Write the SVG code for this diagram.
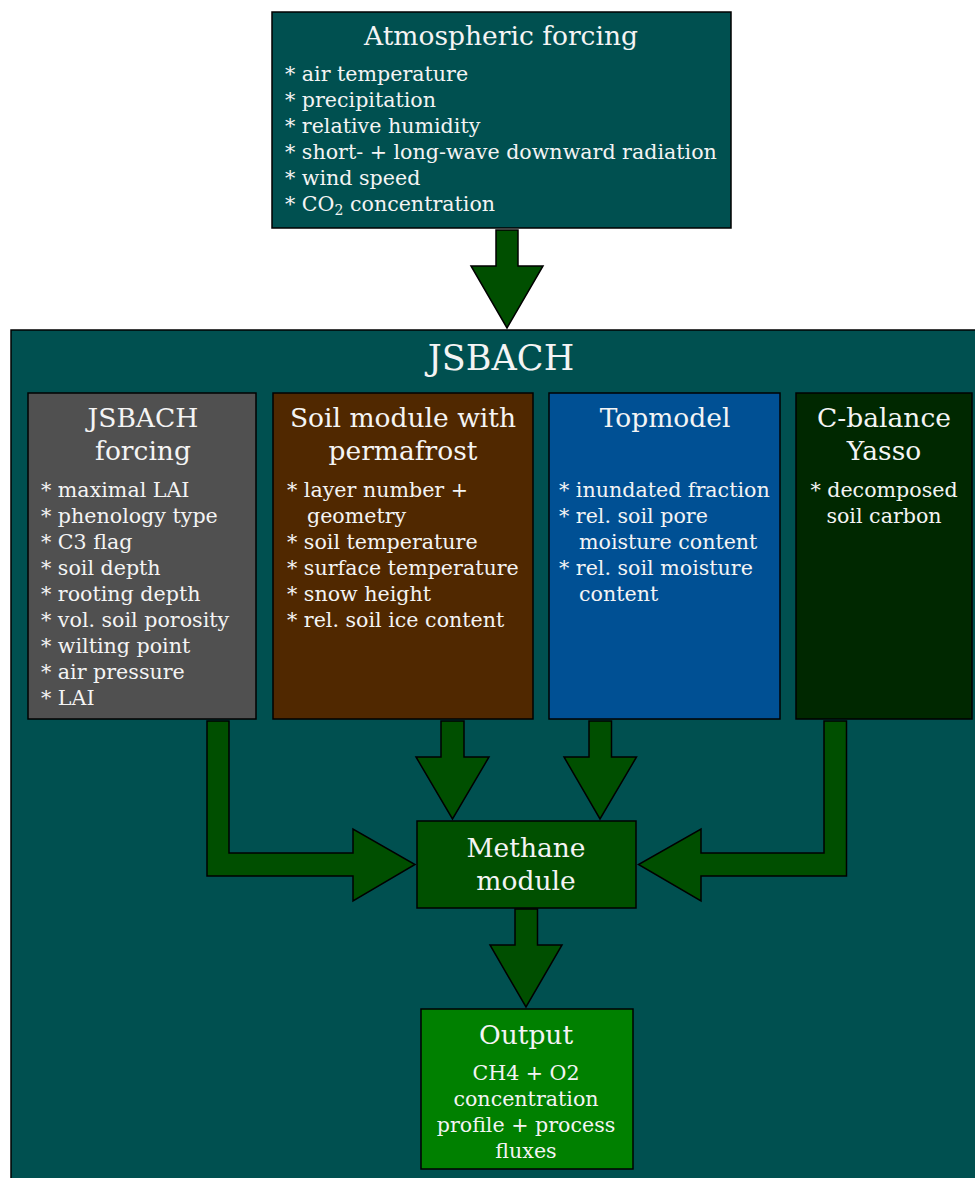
<svg xmlns="http://www.w3.org/2000/svg" width="975" height="1178" viewBox="0 0 975 1178">
<style>
.box{stroke:#000;stroke-width:1.5}
.arr{fill:#004f00;stroke:#000;stroke-width:1.5}
text{font-family:"DejaVu Serif",serif;fill:#f4f4f4}
.t{font-size:26.5px;text-anchor:middle}
.i{font-size:20.6px}
.c{text-anchor:middle}
</style>
<rect width="975" height="1178" fill="#fff"/>
<g id="atmospheric-forcing">
<rect class="box" x="272" y="12" width="459" height="216" fill="#005050"/>
<text class="t" x="501" y="45">Atmospheric forcing</text>
<text class="i" x="285" y="81">* air temperature</text>
<text class="i" x="285" y="107">* precipitation</text>
<text class="i" x="285" y="133">* relative humidity</text>
<text class="i" x="285" y="159">* short- + long-wave downward radiation</text>
<text class="i" x="285" y="185">* wind speed</text>
<text class="i" x="285" y="211">* CO<tspan font-size="14" dy="4">2</tspan><tspan dy="-4"> concentration</tspan></text>
</g>
<g id="jsbach">
<rect class="box" x="11" y="330" width="970" height="860" fill="#005050"/>
<text x="501" y="370" font-size="35" text-anchor="middle">JSBACH</text>
</g>
<g id="jsbach-forcing">
<rect class="box" x="28" y="393" width="228" height="326" fill="#505050"/>
<text class="t" x="143" y="427">JSBACH</text>
<text class="t" x="143" y="460">forcing</text>
<text class="i" x="41" y="497">* maximal LAI</text>
<text class="i" x="41" y="523">* phenology type</text>
<text class="i" x="41" y="549">* C3 flag</text>
<text class="i" x="41" y="575">* soil depth</text>
<text class="i" x="41" y="601">* rooting depth</text>
<text class="i" x="41" y="627">* vol. soil porosity</text>
<text class="i" x="41" y="653">* wilting point</text>
<text class="i" x="41" y="679">* air pressure</text>
<text class="i" x="41" y="705">* LAI</text>
</g>
<g id="soil-module">
<rect class="box" x="273" y="393" width="260" height="326" fill="#502800"/>
<text class="t" x="403" y="427">Soil module with</text>
<text class="t" x="403" y="460">permafrost</text>
<text class="i" x="287" y="497">* layer number +</text>
<text class="i" x="307" y="523">geometry</text>
<text class="i" x="287" y="549">* soil temperature</text>
<text class="i" x="287" y="575">* surface temperature</text>
<text class="i" x="287" y="601">* snow height</text>
<text class="i" x="287" y="627">* rel. soil ice content</text>
</g>
<g id="topmodel">
<rect class="box" x="549" y="393" width="231" height="326" fill="#005094"/>
<text class="t" x="665" y="427">Topmodel</text>
<text class="i" x="559" y="497">* inundated fraction</text>
<text class="i" x="559" y="523">* rel. soil pore</text>
<text class="i" x="579" y="549">moisture content</text>
<text class="i" x="559" y="575">* rel. soil moisture</text>
<text class="i" x="579" y="601">content</text>
</g>
<g id="c-balance-yasso">
<rect class="box" x="796" y="393" width="176" height="326" fill="#002800"/>
<text class="t" x="884" y="427">C-balance</text>
<text class="t" x="884" y="460">Yasso</text>
<text class="i c" x="884" y="497">* decomposed</text>
<text class="i c" x="884" y="523">soil carbon</text>
</g>
<g id="methane-module">
<rect class="box" x="417" y="821" width="219" height="87" fill="#005000"/>
<text class="t" x="526" y="857">Methane</text>
<text class="t" x="526" y="890">module</text>
</g>
<g id="output">
<rect class="box" x="421" y="1009" width="212" height="160" fill="#008000"/>
<text class="t" x="526" y="1044">Output</text>
<text class="i c" x="526" y="1080">CH4 + O2</text>
<text class="i c" x="526" y="1106">concentration</text>
<text class="i c" x="526" y="1132">profile + process</text>
<text class="i c" x="526" y="1158">fluxes</text>
</g>
<g id="connectors">
<polygon class="arr" points="496,230 518,230 518,266 543,266 507,328 471,266 496,266"/>
<polygon class="arr" points="207,721 229,721 229,853 353,853 353,829 415,864.5 353,901 353,876 207,876"/>
<polygon class="arr" points="441,721 464,721 464,757 489,757 452.5,819 416,757 441,757"/>
<polygon class="arr" points="589,721 611.5,721 611.5,757 636.5,757 600,819 564,757 589,757"/>
<polygon class="arr" points="846.5,721 824,721 824,853 701,853 701,829 638.5,864.5 701,901 701,876 846.5,876"/>
<polygon class="arr" points="515,909 537.5,909 537.5,945 562,945 526,1007 490,945 515,945"/>
</g>
</svg>
